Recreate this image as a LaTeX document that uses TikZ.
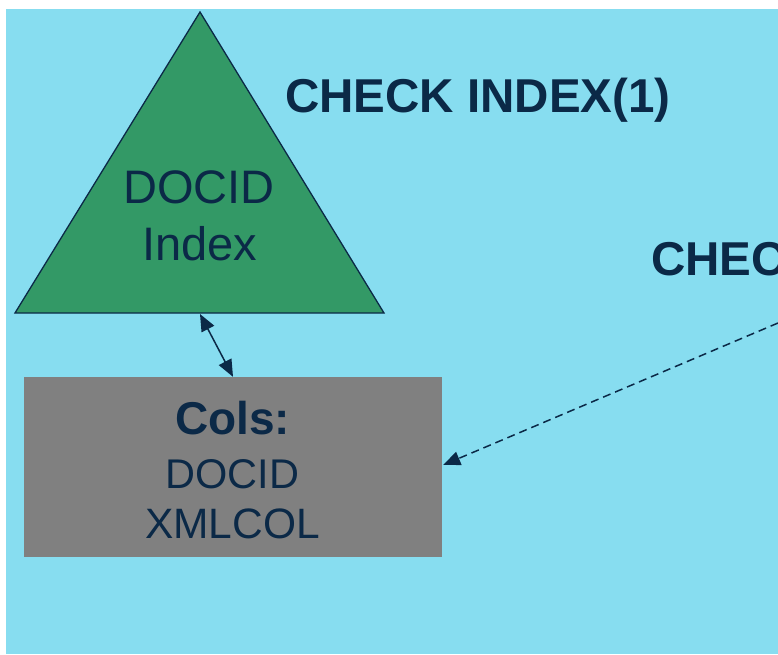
\documentclass[tikz,border=0pt]{standalone}
\usepackage{fontspec}
\setmainfont{Liberation Sans}
\usetikzlibrary{arrows.meta,calc}
\definecolor{bgblue}{RGB}{135,221,240}
\definecolor{trigreen}{RGB}{51,153,102}
\definecolor{boxgray}{RGB}{128,128,128}
\definecolor{navy}{RGB}{11,41,71}
\tikzset{
  lbl/.style={text=navy, inner sep=0pt, anchor=base},
  conn/.style={draw=navy, line width=1.5pt},
  tip/.style={-{Triangle[length=17pt,width=14pt]}},
}
\begin{document}
\begin{tikzpicture}[x=1pt,y=-1pt]
\useasboundingbox (0,0) rectangle (778,654);
\fill[white] (0,0) rectangle (778,654);
\fill[bgblue] (6,9) rectangle (778,654);
% triangle
\draw[fill=trigreen, draw=navy, line width=1.3pt, line join=miter] (200,12) -- (384,313) -- (15,313) -- cycle;
\coordinate (tribase) at (200,314);
\node[lbl, font=\fontsize{47}{56}\selectfont] (tri1) at (199,203) {DOCID};
\node[lbl, font=\fontsize{47}{56}\selectfont] (tri2) at (200,260) {Index};
% box
\node[fill=boxgray, minimum width=418pt, minimum height=180pt, inner sep=0pt] (box) at (233,467) {};
\node[lbl, font=\fontsize{46}{55}\selectfont\bfseries] (c1) at (232.5,434) {Cols:};
\node[lbl, font=\fontsize{41.5}{50}\selectfont] (c2) at (232.5,488) {DOCID};
\node[lbl, font=\fontsize{42.5}{50}\selectfont] (c3) at (232.5,538) {XMLCOL};
% titles
\node[lbl, anchor=base west, font=\fontsize{47.5}{56}\selectfont\bfseries] (t1) at (285,112) {CHECK INDEX(1)};
\node[lbl, anchor=base west, font=\fontsize{47.5}{56}\selectfont\bfseries] (t2) at (651,275) {CHEC};
% connectors
\draw[conn, {Triangle[length=17pt,width=14pt]}-{Triangle[length=17pt,width=14pt]}] (tribase) -- (box.north);
\coordinate (dashstart) at (778,323);
\coordinate (dashend) at ($(box.east)+(1,-2)$);
\draw[conn, dash pattern=on 8pt off 5pt, tip] (dashstart) -- (dashend);
\end{tikzpicture}
\end{document}
